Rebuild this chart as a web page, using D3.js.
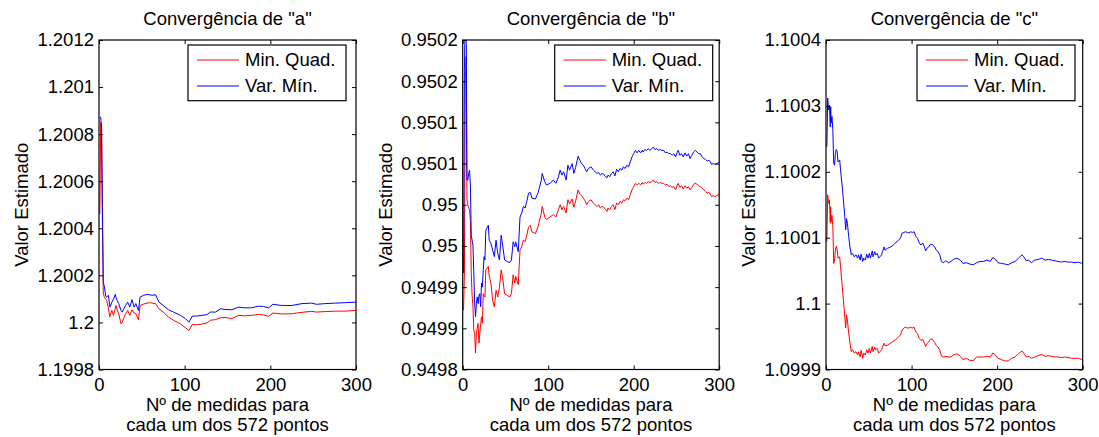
<!DOCTYPE html>
<html>
<head>
<meta charset="utf-8">
<script src="https://cdn.jsdelivr.net/npm/d3@7"></script>
<style>
  html, body { margin: 0; padding: 0; background: #fff; }
  svg { display: block; }
  text { font-family: "Liberation Sans", Arial, Helvetica, sans-serif; fill: #000; }
</style>
</head>
<body>
<svg id="chart" width="1099" height="437"></svg>
<script>
// ---------- DATA ----------
const titles = ['Convergência de "a"', 'Convergência de "b"', 'Convergência de "c"'];
const seriesNames = ["Min. Quad.", "Var. Mín."];
const xLabelLines = ["Nº de medidas para", "cada um dos 572 pontos"];
const yLabel = "Valor Estimado";
const xTicks = [0, 100, 200, 300];
const xTickLabels = ["0", "100", "200", "300"];

const yTicksA = [1.1998, 1.2, 1.2002, 1.2004, 1.2006, 1.2008, 1.201, 1.2012];
const yTickLabelsA = ["1.1998", "1.2", "1.2002", "1.2004", "1.2006", "1.2008", "1.201", "1.2012"];
const yTicksB = [0.9498, 0.94985, 0.9499, 0.94995, 0.95, 0.95005, 0.9501, 0.95015, 0.9502];
const yTickLabelsB = ["0.9498", "0.9499", "0.9499", "0.95", "0.95", "0.9501", "0.9501", "0.9502", "0.9502"];
const yTicksC = [1.0999, 1.1, 1.1001, 1.1002, 1.1003, 1.1004];
const yTickLabelsC = ["1.0999", "1.1", "1.1001", "1.1002", "1.1003", "1.1004"];

// parameter "a"
const xA = [1,2,3,4,5,6,8,9,11,12.5,13,15,17,19,20,21,23,25.7,27,31,33.5,36,38.5,41,43,46,48,52,56,60,62,66,70,75,81,87,95,101,105,109,114,120,126,130,136,142,147,155,163,170,178,186,192,198,203,213,225,237,248,254,264,276,287,300];
const aVarMin = [1.200872,1.200872,1.200830,1.200500,1.200170,1.200157,1.200110,1.200108,1.200115,1.200070,1.200065,1.200086,1.200100,1.200119,1.200105,1.200094,1.200080,1.200050,1.200044,1.200072,1.200086,1.200065,1.200097,1.200065,1.200080,1.200051,1.200108,1.200115,1.200119,1.200117,1.200115,1.200118,1.200086,1.200072,1.200054,1.200044,1.200030,1.200016,1.200001,1.200027,1.200027,1.200030,1.200033,1.200044,1.200044,1.200058,1.200055,1.200054,1.200065,1.200062,1.200062,1.200069,1.200068,1.200062,1.200077,1.200072,1.200072,1.200080,1.200082,1.200077,1.200080,1.200082,1.200084,1.200086];
const aMinQuad = [1.200460,1.200850,1.200790,1.200420,1.200125,1.200110,1.200098,1.200094,1.200060,1.200023,1.200030,1.200051,1.200030,1.200060,1.200072,1.200055,1.200037,1.199994,1.200000,1.200037,1.200051,1.200030,1.200054,1.200040,1.200037,1.200011,1.200072,1.200078,1.200082,1.200084,1.200082,1.200080,1.200058,1.200044,1.200023,1.200009,1.199994,1.199977,1.199966,1.199991,1.199990,1.199993,1.199998,1.200009,1.200012,1.200020,1.200021,1.200016,1.200030,1.200028,1.200030,1.200034,1.200032,1.200026,1.200040,1.200036,1.200037,1.200043,1.200047,1.200044,1.200046,1.200048,1.200048,1.200051];

// parameter "b"
const xB = [1,2,3,4,5,6,7,8,9,10,11,12,13,14,15,16,17,18,19,20,21,22,23,24,25,26,27,30,31,33,35,37,39,41,43,45,47,49,52,55,57,59,61,62,65,67,69,71,73,75,77,79,81,85,88,92,93,96,98,102,106,109,112,114,116,118,121,123,125,128,130,132,135,137,139,141,143,145,147,150,153,155,157,159,161,163,165,167,169,170,172,174,176,178,180,182,184,186,188,190,192,194,196,198,200,202,204,206,208,210,211,213,215,217,219,221,223,225,227,229,231,233,235,237,239,241,243,245,247,249,251,252,254,256,258,260,262,264,266,268,270,272,274,276,278,280,282,284,286,288,290,291,293,295,297,299,300];
const bVarMin = [0.949917,0.950163,0.950240,0.950240,0.950030,0.950030,0.950038,0.950042,0.950024,0.949963,0.949957,0.949951,0.949917,0.949881,0.949864,0.949880,0.949888,0.949880,0.949890,0.949892,0.949876,0.949905,0.949900,0.949920,0.949937,0.949933,0.949969,0.949975,0.949957,0.949953,0.949945,0.949937,0.949957,0.949941,0.949933,0.949963,0.949949,0.949933,0.949931,0.949930,0.949933,0.949955,0.949949,0.949955,0.949943,0.949985,0.949990,0.949998,0.949996,0.950004,0.950014,0.950015,0.950008,0.950007,0.950014,0.950030,0.950038,0.950028,0.950024,0.950026,0.950030,0.950026,0.950034,0.950042,0.950036,0.950040,0.950030,0.950048,0.950042,0.950050,0.950038,0.950045,0.950059,0.950054,0.950050,0.950048,0.950044,0.950040,0.950044,0.950046,0.950042,0.950040,0.950038,0.950039,0.950036,0.950038,0.950037,0.950034,0.950033,0.950036,0.950034,0.950038,0.950040,0.950035,0.950043,0.950040,0.950044,0.950042,0.950046,0.950044,0.950048,0.950046,0.950052,0.950058,0.950062,0.950066,0.950063,0.950066,0.950063,0.950066,0.950064,0.950067,0.950066,0.950068,0.950066,0.950068,0.950070,0.950067,0.950068,0.950066,0.950067,0.950066,0.950066,0.950063,0.950064,0.950062,0.950062,0.950060,0.950062,0.950058,0.950064,0.950066,0.950060,0.950062,0.950058,0.950063,0.950059,0.950062,0.950056,0.950060,0.950064,0.950066,0.950064,0.950062,0.950062,0.950058,0.950056,0.950055,0.950053,0.950054,0.950052,0.950049,0.950050,0.950049,0.950050,0.950051,0.950052];
const bMinQuad = [0.949872,0.949917,0.950150,0.950180,0.950006,0.950000,0.949996,0.949994,0.949981,0.949917,0.949890,0.949876,0.949848,0.949844,0.949820,0.949844,0.949850,0.949856,0.949832,0.949844,0.949855,0.949864,0.949856,0.949892,0.949890,0.949888,0.949921,0.949925,0.949913,0.949905,0.949884,0.949876,0.949896,0.949888,0.949900,0.949921,0.949909,0.949892,0.949890,0.949888,0.949892,0.949915,0.949905,0.949913,0.949903,0.949945,0.949949,0.949957,0.949955,0.949963,0.949973,0.949975,0.949967,0.949965,0.949973,0.949990,0.949998,0.949985,0.949982,0.949985,0.949988,0.949985,0.949994,0.950000,0.949994,0.949998,0.949990,0.950006,0.950001,0.950007,0.949997,0.950004,0.950018,0.950013,0.950011,0.950008,0.950005,0.950000,0.950004,0.950006,0.950002,0.950000,0.949998,0.950000,0.949996,0.949998,0.949997,0.949994,0.949992,0.949996,0.949994,0.949998,0.950000,0.949994,0.950002,0.950000,0.950004,0.950002,0.950006,0.950005,0.950008,0.950006,0.950012,0.950018,0.950022,0.950026,0.950024,0.950026,0.950024,0.950027,0.950025,0.950027,0.950026,0.950028,0.950027,0.950028,0.950030,0.950027,0.950028,0.950026,0.950027,0.950026,0.950026,0.950024,0.950025,0.950022,0.950023,0.950021,0.950022,0.950018,0.950024,0.950026,0.950021,0.950023,0.950019,0.950023,0.950020,0.950022,0.950018,0.950021,0.950025,0.950026,0.950025,0.950023,0.950022,0.950020,0.950018,0.950016,0.950014,0.950015,0.950012,0.950010,0.950011,0.950010,0.950011,0.950012,0.950014];

// parameter "c"
const xC = [1,2,3,4,5,5.5,6,7,8,9,10,11,12,13,14,16,17,19,21,22,23,24,25,26.5,28,29.6,31,33,35,37,38,40,41,43,44,46,47.5,49,50.6,52,54,55,57,58,60,61.5,63,65,66,68,69,72,74,77,79.5,81,83,85,87,89,91,93,95,97,99,101,103,105,107,109,111,113,115,116.5,118,120,122,124,127,129,131,133,135,137,140,143,146,149,153,157,160,164,168,172,176,180,184,188,192,195,198,201,205,209,213,217,221,225,229,231,234,237,240,244,248,252,256,260,264,268,271,275,279,283,287,291,295,299,300];
const cVarMin = [1.100238,1.100312,1.100294,1.100301,1.100268,1.100299,1.100274,1.100284,1.100263,1.100213,1.100210,1.100228,1.100234,1.100231,1.100215,1.100218,1.100203,1.100177,1.100147,1.100132,1.100112,1.100129,1.100122,1.100102,1.100086,1.100074,1.100076,1.100071,1.100074,1.100069,1.100074,1.100066,1.100075,1.100064,1.100069,1.100066,1.100075,1.100069,1.100076,1.100069,1.100080,1.100071,1.100079,1.100074,1.100076,1.100069,1.100071,1.100074,1.100079,1.100086,1.100081,1.100084,1.100085,1.100087,1.100090,1.100092,1.100094,1.100097,1.100099,1.100107,1.100108,1.100109,1.100108,1.100107,1.100109,1.100108,1.100109,1.100102,1.100099,1.100092,1.100089,1.100092,1.100086,1.100080,1.100084,1.100086,1.100090,1.100090,1.100086,1.100081,1.100079,1.100074,1.100064,1.100062,1.100065,1.100062,1.100064,1.100067,1.100069,1.100066,1.100061,1.100062,1.100060,1.100059,1.100062,1.100064,1.100064,1.100066,1.100064,1.100070,1.100067,1.100062,1.100061,1.100060,1.100059,1.100062,1.100064,1.100069,1.100074,1.100071,1.100065,1.100066,1.100062,1.100066,1.100067,1.100069,1.100066,1.100067,1.100066,1.100065,1.100064,1.100063,1.100064,1.100063,1.100063,1.100062,1.100063,1.100061,1.100060];
const cMinQuad = [1.100094,1.100165,1.100152,1.100157,1.100122,1.100147,1.100124,1.100134,1.100117,1.100061,1.100066,1.100081,1.100087,1.100082,1.100069,1.100071,1.100056,1.100026,1.099995,1.099980,1.099963,1.099983,1.099975,1.099955,1.099940,1.099927,1.099930,1.099925,1.099927,1.099922,1.099927,1.099919,1.099929,1.099917,1.099925,1.099922,1.099930,1.099925,1.099932,1.099925,1.099935,1.099927,1.099934,1.099930,1.099932,1.099925,1.099927,1.099930,1.099934,1.099940,1.099936,1.099937,1.099939,1.099941,1.099944,1.099945,1.099947,1.099950,1.099952,1.099960,1.099963,1.099964,1.099963,1.099963,1.099964,1.099963,1.099964,1.099957,1.099954,1.099947,1.099944,1.099946,1.099940,1.099935,1.099939,1.099942,1.099946,1.099946,1.099941,1.099936,1.099934,1.099929,1.099920,1.099919,1.099920,1.099919,1.099919,1.099922,1.099924,1.099920,1.099915,1.099917,1.099914,1.099913,1.099919,1.099919,1.099919,1.099920,1.099919,1.099925,1.099922,1.099917,1.099915,1.099913,1.099913,1.099917,1.099919,1.099924,1.099928,1.099925,1.099919,1.099920,1.099917,1.099919,1.099921,1.099923,1.099920,1.099921,1.099920,1.099919,1.099919,1.099918,1.099919,1.099918,1.099917,1.099917,1.099917,1.099915,1.099914];

// ---------- DRAWING ----------
const panels = [
  { left: 99,    right: 356,   legendRight: 346,   title: titles[0], x: xA, red: aMinQuad, blue: aVarMin, yTicks: yTicksA, yLabels: yTickLabelsA },
  { left: 462.7, right: 719.2, legendRight: 712.7, title: titles[1], x: xB, red: bMinQuad, blue: bVarMin, yTicks: yTicksB, yLabels: yTickLabelsB },
  { left: 826,   right: 1082.7,legendRight: 1075,  title: titles[2], x: xC, red: cMinQuad, blue: cVarMin, yTicks: yTicksC, yLabels: yTickLabelsC }
];
const plotTop = 40, plotBottom = 369.5;
const FS = 18.5;
const svg = d3.select("#chart");

panels.forEach((p, i) => {
  const x = d3.scaleLinear().domain([0, 300]).range([p.left, p.right]);
  const y = d3.scaleLinear().domain([p.yTicks[0], p.yTicks[p.yTicks.length - 1]]).range([plotBottom, plotTop]);
  const g = svg.append("g");

  const clipId = "clip" + i;
  svg.append("defs").append("clipPath").attr("id", clipId)
    .append("rect").attr("x", p.left).attr("y", plotTop).attr("width", p.right - p.left).attr("height", plotBottom - plotTop);

  const line = d3.line().x((d) => x(d[0])).y((d) => y(d[1]));
  const redPts = p.x.map((xv, k) => [xv, p.red[k]]);
  const bluePts = p.x.map((xv, k) => [xv, p.blue[k]]);
  const lg = g.append("g").attr("clip-path", `url(#${clipId})`);
  lg.append("path").datum(redPts).attr("d", line).attr("fill", "none").attr("stroke", "#ff0000").attr("stroke-width", 1);
  lg.append("path").datum(bluePts).attr("d", line).attr("fill", "none").attr("stroke", "#0000ff").attr("stroke-width", 1);

  const TS = 4;
  const ax = g.append("g").attr("transform", `translate(0,${plotBottom})`)
    .call(d3.axisBottom(x).tickValues(xTicks).tickFormat((d, k) => xTickLabels[k]).tickSize(-TS).tickSizeOuter(0).tickPadding(8.5));
  const ay = g.append("g").attr("transform", `translate(${p.left},0)`)
    .call(d3.axisLeft(y).tickValues(p.yTicks).tickFormat((d, k) => p.yLabels[k]).tickSize(-TS).tickSizeOuter(0).tickPadding(5));
  const at = g.append("g").attr("transform", `translate(0,${plotTop})`)
    .call(d3.axisTop(x).tickValues(xTicks).tickFormat("").tickSize(-TS).tickSizeOuter(0));
  const ar = g.append("g").attr("transform", `translate(${p.right},0)`)
    .call(d3.axisRight(y).tickValues(p.yTicks).tickFormat("").tickSize(-TS).tickSizeOuter(0));
  [ax, ay, at, ar].forEach((a) => {
    a.attr("font-size", null).attr("font-family", null);
    a.selectAll("path.domain").remove();
    a.selectAll("line").attr("stroke", "#000").attr("stroke-width", 1);
    a.selectAll("text").style("font-size", FS + "px").attr("fill", "#000");
  });

  g.append("rect").attr("x", p.left).attr("y", plotTop).attr("width", p.right - p.left).attr("height", plotBottom - plotTop)
    .attr("fill", "none").attr("stroke", "#000").attr("stroke-width", 1.2);

  const cx = (p.left + p.right) / 2;
  g.append("text").attr("x", cx).attr("y", 25).attr("text-anchor", "middle").style("font-size", FS + "px").text(p.title);
  g.append("text").attr("x", cx).attr("y", 410.5).attr("text-anchor", "middle").style("font-size", FS + "px").text(xLabelLines[0]);
  g.append("text").attr("x", cx).attr("y", 431).attr("text-anchor", "middle").style("font-size", FS + "px").text(xLabelLines[1]);
  g.append("text").attr("transform", `translate(${p.left - 71},${(plotTop + plotBottom) / 2}) rotate(-90)`)
    .attr("text-anchor", "middle").style("font-size", FS + "px").text(yLabel);

  const lw = 158, lx = p.legendRight - lw, ly = 45, lh = 55.7;
  const leg = g.append("g");
  leg.append("rect").attr("x", lx).attr("y", ly).attr("width", lw).attr("height", lh)
    .attr("fill", "#fff").attr("stroke", "#000").attr("stroke-width", 1.2);
  const items = [{ name: seriesNames[0], color: "#ff0000", yy: 60 }, { name: seriesNames[1], color: "#0000ff", yy: 86 }];
  items.forEach((it) => {
    leg.append("line").attr("x1", lx + 9).attr("x2", lx + 51).attr("y1", it.yy).attr("y2", it.yy)
      .attr("stroke", it.color).attr("stroke-width", 1);
    leg.append("text").attr("x", lx + 57).attr("y", it.yy).attr("dy", "0.35em").style("font-size", FS + "px").text(it.name);
  });
});
</script>
</body>
</html>
